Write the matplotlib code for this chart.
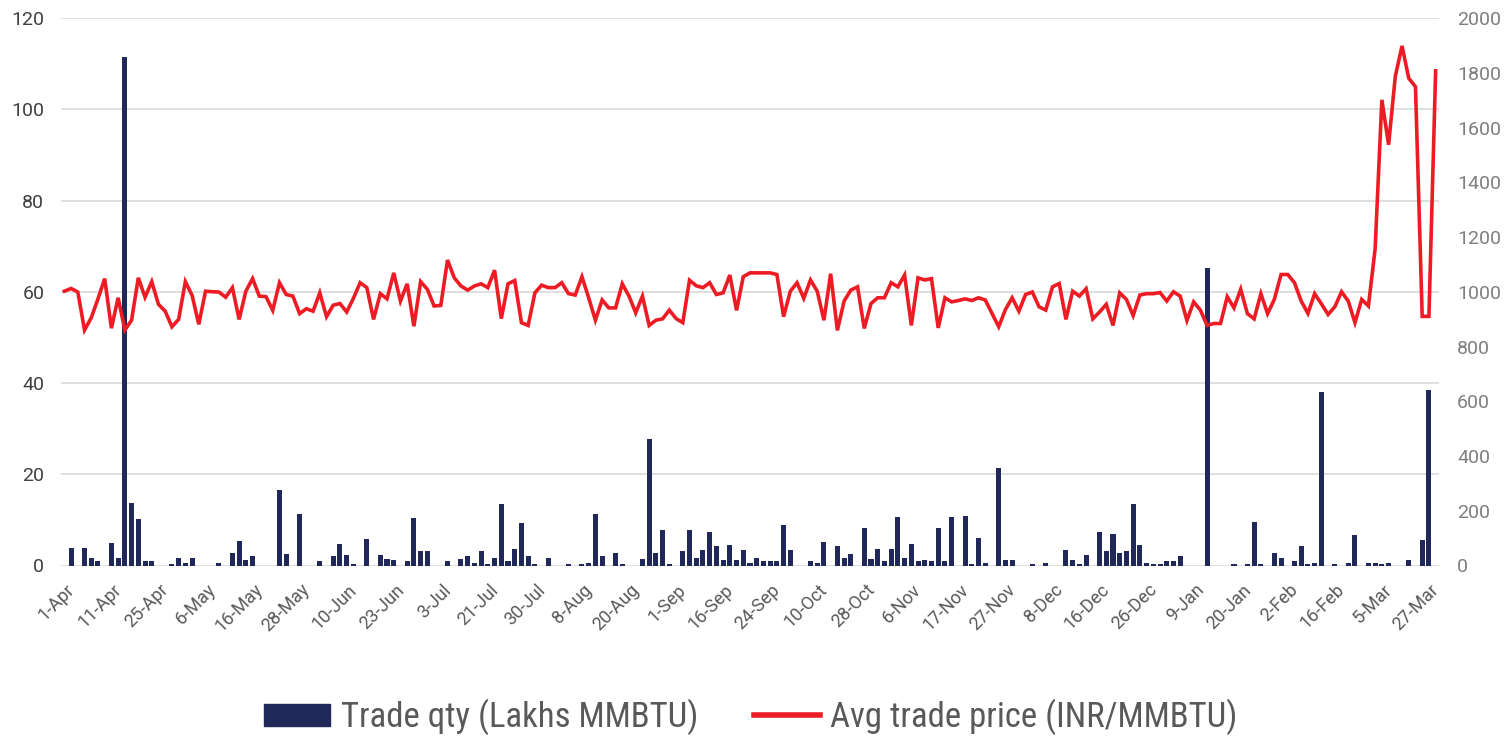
import numpy as np
import matplotlib
matplotlib.use("Agg")
import matplotlib.pyplot as plt
import matplotlib.transforms as mtransforms
from matplotlib import font_manager
from matplotlib.patches import Patch
from matplotlib.lines import Line2D

# trade quantity per trading day (Lakhs MMBTU)
trade_qty = [
    0, 3.9, 0, 3.9, 1.7, 0.9, 0, 5.0, 1.7, 111.5,
    13.7, 10.2, 0.9, 0.9, 0, 0, 0.3, 1.7, 0.6, 1.7,
    0, 0, 0, 0.6, 0, 2.8, 5.3, 1.1, 2.0, 0,
    0, 0, 16.5, 2.5, 0, 11.3, 0, 0, 0.9, 0,
    2.0, 4.7, 2.3, 0.4, 0, 5.8, 0, 2.3, 1.4, 1.1,
    0, 0.9, 10.5, 3.1, 3.1, 0, 0, 0.9, 0, 1.4,
    2.0, 0.6, 3.1, 0.3, 1.7, 13.5, 0.9, 3.6, 9.3, 2.0,
    0.3, 0, 1.7, 0, 0, 0.3, 0, 0.3, 0.6, 11.3,
    2.0, 0, 2.8, 0.3, 0, 0, 1.4, 27.7, 2.8, 7.7,
    0.3, 0, 3.1, 7.7, 1.7, 3.3, 7.4, 4.2, 1.1, 4.4,
    1.1, 3.5, 0.6, 1.7, 0.9, 0.9, 0.9, 8.8, 3.5, 0,
    0, 0.9, 0.6, 5.2, 0, 4.2, 1.7, 2.5, 0, 8.2,
    1.4, 3.6, 0.9, 3.6, 10.7, 1.7, 4.7, 0.9, 1.1, 0.9,
    8.3, 0.9, 10.7, 0, 10.9, 0.3, 6.1, 0.6, 0, 21.3,
    1.1, 1.1, 0, 0, 0.3, 0, 0.6, 0, 0, 3.5,
    1.1, 0.3, 2.2, 0, 7.4, 3.1, 6.8, 2.8, 3.1, 13.5,
    4.6, 0.6, 0.3, 0.3, 0.9, 0.9, 2.0, 0, 0, 0,
    65.2, 0, 0, 0, 0.3, 0, 0.3, 9.6, 0.3, 0,
    2.8, 1.7, 0, 0.9, 4.2, 0.3, 0.6, 38.1, 0, 0.3,
    0, 0.6, 6.6, 0, 0.6, 0.6, 0.3, 0.6, 0, 0,
    1.2, 0, 5.5, 38.5, 0,
]

# average trade price per trading day (INR/MMBTU)
avg_price = [
    1002, 1012, 999, 860, 905, 974, 1048, 867, 978, 860,
    896, 1051, 980, 1037, 954, 929, 872, 899, 1037, 987,
    881, 1002, 1000, 999, 980, 1015, 899, 1002, 1048, 984,
    982, 932, 1033, 990, 984, 920, 938, 929, 996, 909,
    951, 957, 926, 976, 1033, 1015, 899, 993, 974, 1069,
    966, 1029, 874, 1037, 1009, 948, 950, 1116, 1051, 1021,
    1006, 1021, 1029, 1015, 1079, 902, 1029, 1041, 887, 877,
    996, 1024, 1015, 1015, 1033, 993, 988, 1055, 978, 896,
    970, 941, 941, 1029, 984, 923, 984, 877, 896, 901,
    933, 902, 887, 1042, 1022, 1015, 1033, 990, 996, 1061,
    932, 1055, 1069, 1069, 1069, 1069, 1063, 909, 1002, 1033,
    976, 1043, 1002, 896, 1066, 859, 966, 1006, 1018, 866,
    957, 978, 978, 1033, 1018, 1061, 877, 1051, 1043, 1048,
    868, 978, 963, 968, 974, 968, 978, 970, 921, 872,
    935, 978, 929, 990, 999, 945, 933, 1018, 1030, 899,
    1002, 984, 1011, 901, 926, 954, 877, 996, 972, 913,
    988, 993, 993, 997, 966, 1000, 984, 895, 963, 933,
    877, 884, 884, 982, 941, 1009, 920, 901, 993, 920,
    972, 1063, 1063, 1033, 966, 921, 993, 956, 917, 945,
    1000, 966, 887, 972, 948, 1157, 1701, 1537, 1787, 1898,
    1780, 1749, 910, 910, 1807,
]

date_labels = [
    "1-Apr", "11-Apr", "25-Apr", "6-May", "16-May", "28-May", "10-Jun", "23-Jun",
    "3-Jul", "21-Jul", "30-Jul", "8-Aug", "20-Aug", "1-Sep", "16-Sep", "24-Sep",
    "10-Oct", "28-Oct", "6-Nov", "17-Nov", "27-Nov", "8-Dec", "16-Dec", "26-Dec",
    "9-Jan", "20-Jan", "2-Feb", "16-Feb", "5-Mar", "27-Mar",
]
label_step = 7

navy = "#1f2859"
red = "#ed1c24"
grid_col = "#d9d9d9"


def pick_font(names):
    have = {f.name for f in font_manager.fontManager.ttflist}
    for n in names:
        if n in have:
            return n
    return "DejaVu Sans"


tick_font = pick_font(["Roboto", "DejaVu Sans"])
legend_font = pick_font(["Roboto Condensed", "Liberation Sans Narrow", "Roboto"])

plt.rcParams["font.family"] = [tick_font, "DejaVu Sans"]

x = np.arange(len(trade_qty))

fig = plt.figure(figsize=(15.11, 7.37), dpi=100)
ax = fig.add_axes([61 / 1511, 1 - 565.5 / 737, (1439 - 61) / 1511, (565.5 - 18) / 737])
ax2 = ax.twinx()

ax.bar(x, trade_qty, width=0.75, color=navy, zorder=2)
ax2.plot(x, avg_price, color=red, lw=2.6, zorder=3, solid_joinstyle="miter")

ax.set_xlim(-0.5, len(x) - 0.5)
ax.set_ylim(0, 120)
ax.set_yticks(range(0, 121, 20))
ax2.set_ylim(0, 2000)
ax2.set_yticks(range(0, 2001, 200))

ax.yaxis.grid(True, color=grid_col, lw=1.2, zorder=0)
ax.set_axisbelow(True)
for a in (ax, ax2):
    for s in a.spines.values():
        s.set_visible(False)

ax.set_xticks(x[::label_step])
ax.set_xticklabels(date_labels, rotation=45, ha="right", va="top",
                   rotation_mode="anchor", fontsize=13, color="#595959")
ax.tick_params(axis="x", length=0, pad=11)
offset = mtransforms.ScaledTranslation(1 / 100, 0, fig.dpi_scale_trans)
for lbl in ax.get_xticklabels():
    lbl.set_transform(lbl.get_transform() + offset)

ax.tick_params(axis="y", length=0, pad=12, labelsize=14, labelcolor="#404040")
ax2.tick_params(axis="y", length=0, pad=13, labelsize=14, labelcolor="#7f7f7f")

handles = [
    Patch(facecolor=navy, edgecolor=navy),
    Line2D([0], [0], color=red, lw=4),
]
fig.legend(handles, ["Trade qty (Lakhs MMBTU)", "Avg trade price (INR/MMBTU)"],
           loc="center", bbox_to_anchor=(0.497, 1 - 717 / 737), ncol=2, frameon=False,
           prop={"family": legend_font, "size": 25}, labelcolor="#595959",
           handlelength=1.9, handleheight=0.6, handletextpad=0.3, columnspacing=1.6)

fig.savefig("out.png", dpi=100)
